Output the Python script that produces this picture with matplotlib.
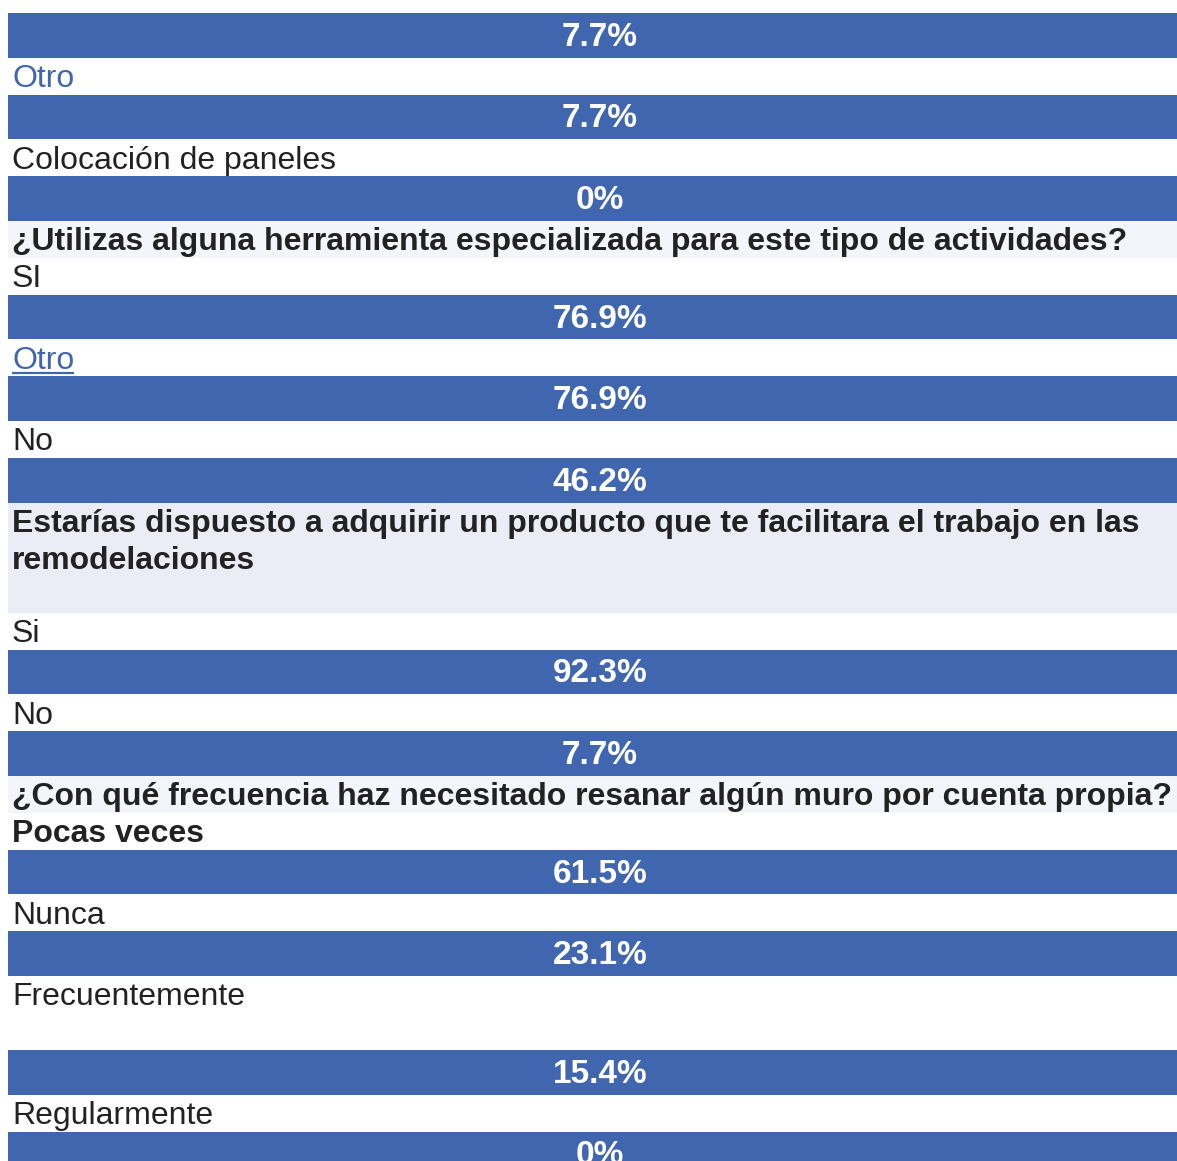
import matplotlib
matplotlib.use("Agg")
import matplotlib.pyplot as plt

# ---- data ----
top_labels = [None, "Otro", "Colocación de paneles"]
top_values = [7.7, 7.7, 0]

q1_title = ["¿Utilizas alguna herramienta especializada para este tipo de actividades?"]
q1_labels = ["SI", "Otro", "No"]
q1_values = [76.9, 76.9, 46.2]

q2_title = ["Estarías dispuesto a adquirir un producto que te facilitara el trabajo en las",
            "remodelaciones"]
q2_labels = ["Si", "No"]
q2_values = [92.3, 7.7]

q3_title = ["¿Con qué frecuencia haz necesitado resanar algún muro por cuenta propia?"]
q3_labels = ["Pocas veces", "Nunca", "Frecuentemente", "Regularmente"]
q3_values = [61.5, 23.1, 15.4, 0]

# ---- style ----
BLUE = "#4166B0"
TXT = "#222222"
HDR_LIGHT = "#F4F5FA"
HDR_MID = "#EAEDF5"
FONT = "Liberation Sans"
FS = 23.0
FS_PCT = 24.0
W, H = 1177, 1161
X0, X1 = 8, 1177
BAR_H = 44.6
LAB_H = 37.0
LINE_H = 37.0
DY = 2.8

fig = plt.figure(figsize=(W / 100, H / 100), dpi=100)
ax = fig.add_axes([0, 0, 1, 1])
ax.set_xlim(0, W)
ax.set_ylim(H, 0)
ax.axis("off")

y = 13.0
underline_texts = []


def fmt(v):
    return "0%" if v == 0 else f"{v:.1f}%"


def draw_bar(v):
    global y
    ax.barh(y + BAR_H / 2, X1 - X0, left=X0, height=BAR_H, color=BLUE, linewidth=0)
    ax.text(600, y + BAR_H / 2 + 2.0, fmt(v), ha="center", va="center", color="white",
            fontsize=FS_PCT, fontweight="bold", family=FONT)
    y += BAR_H


def draw_label(text, color=TXT, bold=False, extra=0.0, underline=False):
    global y
    h = LAB_H + extra
    t = ax.text(12, y + LAB_H / 2 + DY, text, ha="left", va="center", color=color,
                fontsize=FS, fontweight="bold" if bold else "normal", family=FONT)
    if underline:
        underline_texts.append((t, y + LAB_H - 3))
    y += h


def draw_header(lines, bg, extra=0.0):
    global y
    h = LINE_H * len(lines) + extra
    ax.barh(y + h / 2, X1 - X0, left=X0, height=h, color=bg, linewidth=0)
    for i, ln in enumerate(lines):
        ax.text(12, y + LINE_H * i + LINE_H / 2 + DY, ln, ha="left", va="center",
                color=TXT, fontsize=FS, fontweight="bold", family=FONT)
    y += h


# top section (continuation)
for lab, v in zip(top_labels, top_values):
    if lab is not None:
        draw_label(lab, color=BLUE if lab == "Otro" else TXT)
    draw_bar(v)

# question 1
draw_header(q1_title, HDR_LIGHT)
for lab, v in zip(q1_labels, q1_values):
    if lab == "Otro":
        draw_label(lab, color=BLUE, underline=True)
    else:
        draw_label(lab)
    draw_bar(v)

# question 2
draw_header(q2_title, HDR_MID, extra=36)
for lab, v in zip(q2_labels, q2_values):
    draw_label(lab)
    draw_bar(v)

# question 3
draw_header(q3_title, HDR_LIGHT)
for lab, v in zip(q3_labels, q3_values):
    draw_label(lab, bold=(lab == "Pocas veces"),
               extra=37 if lab == "Frecuentemente" else 0)
    draw_bar(v)

# underline for link-style label
fig.canvas.draw()
r = fig.canvas.get_renderer()
inv = ax.transData.inverted()
for t, yy in underline_texts:
    bb = t.get_window_extent(r)
    (xa, _), (xb, _) = inv.transform([[bb.x0, bb.y0], [bb.x1, bb.y1]])
    ax.plot([xa, xb], [yy, yy], color=BLUE, lw=1.6, solid_capstyle="butt")

fig.savefig("out.png", dpi=100)
